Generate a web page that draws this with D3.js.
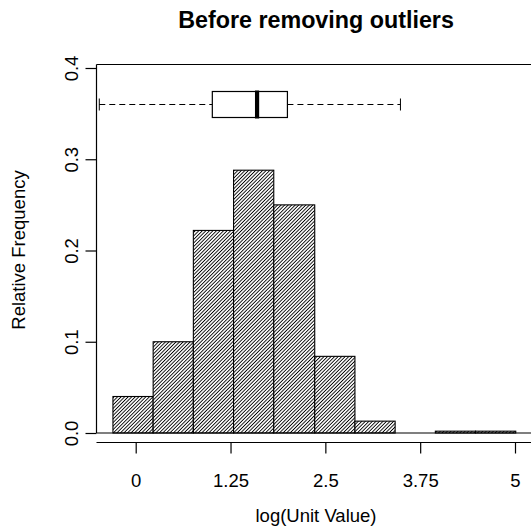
<!DOCTYPE html>
<html>
<head>
<meta charset="utf-8">
<script src="https://cdn.jsdelivr.net/npm/d3@7"></script>
<style>
  html, body { margin: 0; padding: 0; background: #fff; }
  svg { display: block; }
  text { font-family: "Liberation Sans", Arial, Helvetica, sans-serif; fill: #000; }
</style>
</head>
<body>
<script>
// ---- data ----
const binEdges = [-0.30, 0.23, 0.76, 1.29, 1.82, 2.36, 2.89, 3.42, 3.95, 4.48, 5.01];
const relFreq  = [0.040, 0.100, 0.222, 0.288, 0.250, 0.084, 0.013, 0.000, 0.002, 0.002];
const xTicks = [0, 1.25, 2.5, 3.75, 5];
const xTickLabels = ["0", "1.25", "2.5", "3.75", "5"];
const yTicks = [0, 0.1, 0.2, 0.3, 0.4];
const yTickLabels = ["0.0", "0.1", "0.2", "0.3", "0.4"];
// boxplot: lower whisker, Q1, median, Q3, upper whisker
const boxNames = ["lowerWhisker", "q1", "median", "q3", "upperWhisker"];
const boxValues = [-0.48, 1.01, 1.60, 2.00, 3.49];
const boxLevel = [0.36];
const titleText = "Before removing outliers";
const xLabel = "log(Unit Value)";
const yLabel = "Relative Frequency";

// ---- layout ----
const W = 531, H = 531;
const x = d3.scaleLinear().domain([0, 5]).range([135.7, 515]);
const y = d3.scaleLinear().domain([0, 0.4]).range([433, 68]);
const plotLeft = 96.5, plotTop = 64.5, plotRight = W;
const xAxisY = 442.5;

const svg = d3.select("body").append("svg").attr("width", W).attr("height", H);

const defs = svg.append("defs");
const sp = 2.5;
const pat = defs.append("pattern")
  .attr("id", "hatch").attr("patternUnits", "userSpaceOnUse")
  .attr("width", sp).attr("height", 10)
  .attr("patternTransform", "rotate(45)");
pat.append("rect").attr("width", sp).attr("height", 10).attr("fill", "#fff");
pat.append("line").attr("x1", sp / 2).attr("x2", sp / 2).attr("y1", 0).attr("y2", 10)
  .attr("stroke", "#000").attr("stroke-width", 0.9);

// ---- histogram bars ----
const bins = relFreq.map((v, i) => ({ x0: binEdges[i], x1: binEdges[i + 1], v }));
svg.append("g").selectAll("rect").data(bins).join("rect")
  .attr("x", d => x(d.x0))
  .attr("y", d => y(d.v))
  .attr("width", d => x(d.x1) - x(d.x0))
  .attr("height", d => y(0) - y(d.v))
  .attr("fill", "url(#hatch)")
  .attr("stroke", "#000").attr("stroke-width", 1.1);

// ---- frame lines ----
const frame = svg.append("g").attr("stroke", "#000").attr("stroke-width", 1.2);
frame.append("line").attr("x1", plotLeft).attr("x2", plotRight).attr("y1", plotTop).attr("y2", plotTop);
frame.append("line").attr("x1", plotLeft).attr("x2", plotRight).attr("y1", y(0)).attr("y2", y(0));
frame.append("line").attr("x1", plotLeft).attr("x2", plotLeft).attr("y1", plotTop).attr("y2", y(0));

// ---- y axis ----
const yAxis = d3.axisLeft(y).tickValues(yTicks)
  .tickFormat((d, i) => yTickLabels[i]).tickSize(11).tickSizeOuter(0).tickPadding(0);
const gy = svg.append("g").attr("transform", `translate(${plotLeft},0)`).call(yAxis);
gy.select(".domain").remove();
gy.selectAll(".tick line").attr("stroke", "#000").attr("stroke-width", 1.2);
gy.selectAll(".tick text")
  .attr("x", null).attr("dy", null)
  .attr("transform", "translate(-18.5,0) rotate(-90)")
  .attr("text-anchor", "middle")
  .style("font-size", "18.5px");

// ---- x axis ----
const xAxis = d3.axisBottom(x).tickValues(xTicks)
  .tickFormat((d, i) => xTickLabels[i]).tickSize(11).tickSizeOuter(0).tickPadding(0);
const gx = svg.append("g").attr("transform", `translate(0,${xAxisY})`).call(xAxis);
gx.select(".domain").remove();
gx.append("line").attr("x1", plotLeft).attr("x2", plotRight).attr("y1", 0).attr("y2", 0)
  .attr("stroke", "#000").attr("stroke-width", 1.2);
gx.selectAll(".tick line").attr("stroke", "#000").attr("stroke-width", 1.2);
gx.selectAll(".tick text").attr("y", 44).attr("dy", null)
  .style("font-size", "18.5px");

// ---- boxplot ----
const bv = Object.fromEntries(boxNames.map((n, i) => [n, boxValues[i]]));
const by = y(boxLevel[0]);
const half = 13, cap = 6;
const bp = svg.append("g").attr("stroke", "#000");
bp.append("line").attr("x1", x(bv.lowerWhisker)).attr("x2", x(bv.q1)).attr("y1", by).attr("y2", by)
  .attr("stroke-dasharray", "6,4").attr("stroke-width", 1);
bp.append("line").attr("x1", x(bv.q3)).attr("x2", x(bv.upperWhisker)).attr("y1", by).attr("y2", by)
  .attr("stroke-dasharray", "6,4").attr("stroke-width", 1);
bp.append("line").attr("x1", x(bv.lowerWhisker)).attr("x2", x(bv.lowerWhisker)).attr("y1", by - cap).attr("y2", by + cap).attr("stroke-width", 1);
bp.append("line").attr("x1", x(bv.upperWhisker)).attr("x2", x(bv.upperWhisker)).attr("y1", by - cap).attr("y2", by + cap).attr("stroke-width", 1);
bp.append("rect").attr("x", x(bv.q1)).attr("y", by - half).attr("width", x(bv.q3) - x(bv.q1)).attr("height", 2 * half)
  .attr("fill", "#fff").attr("stroke-width", 1.2);
bp.append("line").attr("x1", x(bv.median)).attr("x2", x(bv.median)).attr("y1", by - half - 1).attr("y2", by + half + 1)
  .attr("stroke-width", 4.2);

// ---- titles ----
svg.append("text").attr("x", 316).attr("y", 28).attr("text-anchor", "middle")
  .style("font-size", "23.3px").style("font-weight", "bold").text(titleText);
svg.append("text").attr("x", 316).attr("y", 522).attr("text-anchor", "middle")
  .style("font-size", "18.5px").text(xLabel);
svg.append("text").attr("transform", "translate(25,250) rotate(-90)").attr("text-anchor", "middle")
  .style("font-size", "18.5px").text(yLabel);
</script>
</body>
</html>
